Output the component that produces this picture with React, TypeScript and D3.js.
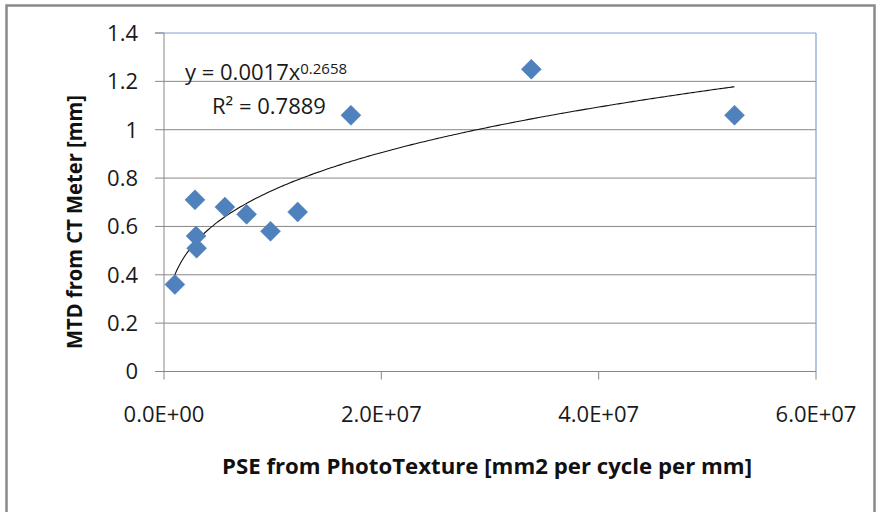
import React from "react";
import * as d3 from "d3";

const pseValues = [1.0e6, 2.85e6, 2.95e6, 3.0e6, 5.6e6, 7.6e6, 9.8e6, 12.3e6, 17.2e6, 33.8e6, 52.5e6];
const mtdValues = [0.36, 0.71, 0.56, 0.51, 0.68, 0.65, 0.58, 0.66, 1.06, 1.25, 1.06];
const yTicks = [0, 0.2, 0.4, 0.6, 0.8, 1, 1.2, 1.4];
const xTicks = [0, 2e7, 4e7, 6e7];
const xTickLabels = ["0.0E+00", "2.0E+07", "4.0E+07", "6.0E+07"];
const eqMain = "y = 0.0017x";
const eqExp = "0.2658";
const r2Label = "R² = 0.7889";
const xTitle = "PSE from PhotoTexture [mm2 per cycle per mm]";
const yTitle = "MTD from CT Meter [mm]";

const W = 876;
const H = 512;
const FONT = "'Open Sans', 'DejaVu Sans', sans-serif";

export default function App() {
  const x = d3.scaleLinear().domain([0, 6e7]).range([164, 816]);
  const y = d3.scaleLinear().domain([0, 1.4]).range([371.5, 33]);

  // power regression (least squares in log-log space), as Excel's power trendline
  const lx = pseValues.map((v) => Math.log(v));
  const ly = mtdValues.map((v) => Math.log(v));
  const mx = d3.mean(lx) as number;
  const my = d3.mean(ly) as number;
  let sxy = 0;
  let sxx = 0;
  lx.forEach((v, i) => {
    sxy += (v - mx) * (ly[i] - my);
    sxx += (v - mx) * (v - mx);
  });
  const b = sxy / sxx;
  const a = Math.exp(my - b * mx);
  const xMin = d3.min(pseValues) as number;
  const xMax = d3.max(pseValues) as number;
  const curvePts: [number, number][] = d3.range(0, 201).map((i) => {
    const xv = xMin + ((xMax - xMin) * i) / 200;
    return [xv, a * Math.pow(xv, b)];
  });
  const line = d3
    .line<[number, number]>()
    .x((d) => x(d[0]))
    .y((d) => y(d[1]))
    .curve(d3.curveMonotoneX);

  const diamond = (s: number) => `M0,${-s}L${s},0L0,${s}L${-s},0Z`;

  return (
    <svg
      width={W}
      height={H}
      style={{ position: "absolute", left: 0, top: 0, background: "#fff" }}
      fontFamily={FONT}
    >
      <rect x={0} y={0} width={W} height={H} fill="#fff" />
      <rect x={6.5} y={5.5} width={868} height={520} fill="none" stroke="#8a8a8a" strokeWidth={2.5} />

      {/* gridlines */}
      {yTicks.map((t) => (
        <line key={"g" + t} x1={155} x2={816} y1={y(t)} y2={y(t)} stroke={t === 1.4 ? "#7fa1cf" : "#878787"} strokeWidth={1} />
      ))}
      {/* plot area border right */}
      <line x1={x(6e7)} x2={x(6e7)} y1={y(1.4)} y2={y(0)} stroke="#7fa1cf" strokeWidth={1.2} />
      <line x1={155} x2={x(0)} y1={y(1.4)} y2={y(1.4)} stroke="#878787" strokeWidth={1} />

      {/* axes */}
      <line x1={x(0)} x2={x(0)} y1={y(1.4)} y2={y(0)} stroke="#878787" strokeWidth={1} />
      <line x1={x(0)} x2={x(6e7)} y1={y(0)} y2={y(0)} stroke="#878787" strokeWidth={1} />
      {xTicks.map((t) => (
        <line key={"xt" + t} x1={x(t)} x2={x(t)} y1={y(0)} y2={y(0) + 8} stroke="#878787" strokeWidth={1} />
      ))}

      {/* y tick labels */}
      {yTicks.map((t) => (
        <text key={"yl" + t} x={138} y={y(t)} dy="0.36em" textAnchor="end" fontSize={22} fill="#1a1a1a">
          {String(t)}
        </text>
      ))}
      {/* x tick labels */}
      {xTicks.map((t, i) => (
        <text key={"xl" + t} x={x(t)} y={422} textAnchor="middle" fontSize={22} fill="#1a1a1a">
          {xTickLabels[i]}
        </text>
      ))}

      {/* trendline */}
      <path d={line(curvePts) || ""} fill="none" stroke="#111" strokeWidth={1.1} />

      {/* points */}
      {pseValues.map((v, i) => (
        <path
          key={"p" + i}
          d={diamond(10)}
          transform={`translate(${x(v)},${y(mtdValues[i])})`}
          fill="#4f81bd"
          stroke="#4a7ab5"
          strokeWidth={0.5}
        />
      ))}

      {/* equation */}
      <text x={185} y={80} fontSize={22} fill="#1a1a1a">
        {eqMain}
        <tspan fontSize={15} dy={-6}>{eqExp}</tspan>
      </text>
      <text x={212} y={114} fontSize={22} fill="#1a1a1a">
        {r2Label}
      </text>

      {/* axis titles */}
      <text
        x={487}
        y={474}
        textAnchor="middle"
        fontSize={22}
        fontWeight="bold"
        fill="#111"
        textLength={530}
        lengthAdjust="spacingAndGlyphs"
      >
        {xTitle}
      </text>
      <text
        transform={`translate(82,222) rotate(-90)`}
        textAnchor="middle"
        fontSize={22}
        fontWeight="bold"
        fill="#111"
        textLength={254}
        lengthAdjust="spacingAndGlyphs"
      >
        {yTitle}
      </text>
    </svg>
  );
}
